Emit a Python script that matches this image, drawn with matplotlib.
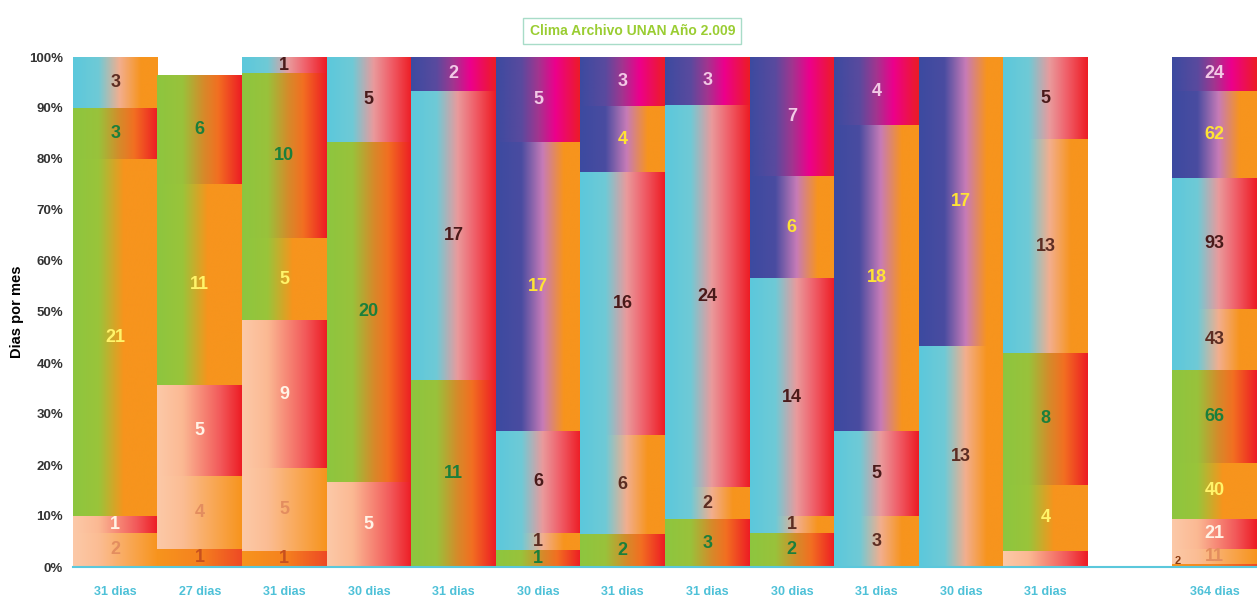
import numpy as np
import matplotlib
matplotlib.use('Agg')
import matplotlib.pyplot as plt
from matplotlib.colors import LinearSegmentedColormap

plt.rcParams['font.family'] = ['Liberation Sans', 'DejaVu Sans']

# dias con dato por mes y largo real del mes
meses_dias = [31, 27, 31, 30, 31, 30, 31, 31, 30, 31, 30, 31]
largo_mes = [31, 28, 31, 30, 31, 30, 31, 31, 30, 31, 30, 31]
total_dias = 364

# tipos de clima, de abajo hacia arriba (valores en dias)
tipo_a = [0, 1, 1, 0, 0, 0, 0, 0, 0, 0, 0, 0]
tipo_b = [2, 4, 5, 0, 0, 0, 0, 0, 0, 0, 0, 0]
tipo_c = [1, 5, 9, 5, 0, 0, 0, 0, 0, 0, 0, 1]
tipo_d = [21, 11, 5, 0, 0, 0, 0, 0, 0, 0, 0, 4]
tipo_e = [3, 6, 10, 20, 11, 1, 2, 3, 2, 0, 0, 8]
tipo_f = [3, 0, 0, 0, 0, 1, 6, 2, 1, 3, 13, 13]
tipo_g = [0, 0, 1, 5, 17, 6, 16, 24, 14, 5, 0, 5]
tipo_h = [0, 0, 0, 0, 0, 17, 4, 0, 6, 18, 17, 0]
tipo_i = [0, 0, 0, 0, 2, 5, 3, 3, 7, 4, 0, 0]

# barra del total anual
total_anual = [2, 11, 21, 40, 66, 43, 93, 62, 24]

series = [tipo_a, tipo_b, tipo_c, tipo_d, tipo_e, tipo_f, tipo_g, tipo_h, tipo_i]

# gradientes horizontales de cada tipo
gradientes = [
    [(0, '#f7941d'), (0.5, '#f5821f'), (1, '#ee4a24')],
    [(0, '#fcc9a8'), (0.3, '#fbbd94'), (1, '#f7941d')],
    [(0, '#fcc9a8'), (0.3, '#fbb993'), (0.75, '#f2595a'), (1, '#ed1c24')],
    [(0, '#8dc63f'), (0.3, '#9ac43a'), (0.6, '#f7941d'), (1, '#f7941d')],
    [(0, '#8dc63f'), (0.3, '#99c23b'), (0.55, '#d68a2a'), (0.72, '#f26f21'), (1, '#ed1c24')],
    [(0, '#5bc8dc'), (0.3, '#6fcad6'), (0.55, '#f2ae8e'), (0.8, '#f7941d'), (1, '#f7941d')],
    [(0, '#5bc8dc'), (0.3, '#6fcad6'), (0.55, '#e99a9c'), (0.75, '#f0606a'), (1, '#ed1c24')],
    [(0, '#3c4aa0'), (0.3, '#4a4ca0'), (0.55, '#c77bb7'), (0.8, '#f7941d'), (1, '#f7941d')],
    [(0, '#3c4aa0'), (0.3, '#5a4a9e'), (0.5, '#a2358f'), (0.7, '#ec008c'), (1, '#ed1c24')],
]
color_texto = ['#c8501e', '#e38d5f', '#fff3e6', '#fff46a', '#1b7f3b',
               '#5c2d22', '#4a1a1a', '#ffe335', '#f3c9e6']
cmaps = [LinearSegmentedColormap.from_list('g%d' % i, g) for i, g in enumerate(gradientes)]

# etiquetas que no se ven en el original (mes, tipo)
sin_etiqueta = [(11, 2)]

fig = plt.figure(figsize=(12.57, 6.0), dpi=100)
ax = fig.add_axes([0.058, 0.055, 0.942, 0.85])

grad = np.linspace(0, 1, 256).reshape(1, -1)

# porcentajes por mes
valores = np.array(series, dtype=float)
pct = valores / valores.sum(axis=0) * (np.array(meses_dias) / np.array(largo_mes)) * 100
x_mes = np.arange(12)
tot = np.array(total_anual, dtype=float)
pct_tot = tot / tot.sum() * 100
x_tot = 13

def dibujar(xpos, alturas, vals, mes_idx):
    base = 0.0
    for k, (h, v) in enumerate(zip(alturas, vals)):
        if v == 0:
            continue
        bar = ax.bar(xpos, h, bottom=base, width=1.0, color='none', edgecolor='none')[0]
        im = ax.imshow(grad, extent=(xpos - 0.5, xpos + 0.5, base, base + h),
                       cmap=cmaps[k], aspect='auto', zorder=1, interpolation='bilinear')
        im.set_clip_path(bar)
        if (mes_idx, k) not in sin_etiqueta:
            if mes_idx == 'total' and k == 0:
                ax.text(xpos - 0.47, base + 0.2, '%d' % v, ha='left', va='bottom',
                        fontsize=8, fontweight='bold', color='#8a3a10', zorder=3)
            else:
                ax.text(xpos, base + h / 2, '%d' % v, ha='center', va='center',
                        fontsize=13, fontweight='bold', color=color_texto[k], zorder=3)
        base += h

for i in x_mes:
    dibujar(i, pct[:, i], valores[:, i], i)
dibujar(x_tot, pct_tot, tot, 'total')

ax.set_xlim(-0.5, 13.5)
ax.set_ylim(0, 100)
ax.set_yticks(np.arange(0, 101, 10))
ax.set_yticklabels(['%d%%' % t for t in range(0, 101, 10)], fontsize=9.5,
                   fontweight='bold', color='#333333')
ax.set_xticks(list(x_mes) + [x_tot])
ax.set_xticklabels(['%d dias' % d for d in meses_dias] + ['%d dias' % total_dias],
                   fontsize=9, fontweight='bold', color='#4ec1d8')
ax.tick_params(axis='y', length=0, pad=7)
ax.tick_params(axis='x', length=0, pad=14)
for s in ['top', 'right', 'left']:
    ax.spines[s].set_visible(False)
ax.spines['bottom'].set_color('#5bc8dc')
ax.spines['bottom'].set_linewidth(1.5)
ax.set_ylabel('Dias por mes', fontsize=10.5, fontweight='bold', labelpad=4)

fig.text(0.503, 0.948, 'Clima Archivo UNAN Año 2.009', ha='center', va='center',
         fontsize=10, fontweight='bold', color='#9acd32',
         bbox=dict(facecolor='white', edgecolor='#a8dcc8', boxstyle='square,pad=0.45'))

fig.savefig('out.png', dpi=100)
